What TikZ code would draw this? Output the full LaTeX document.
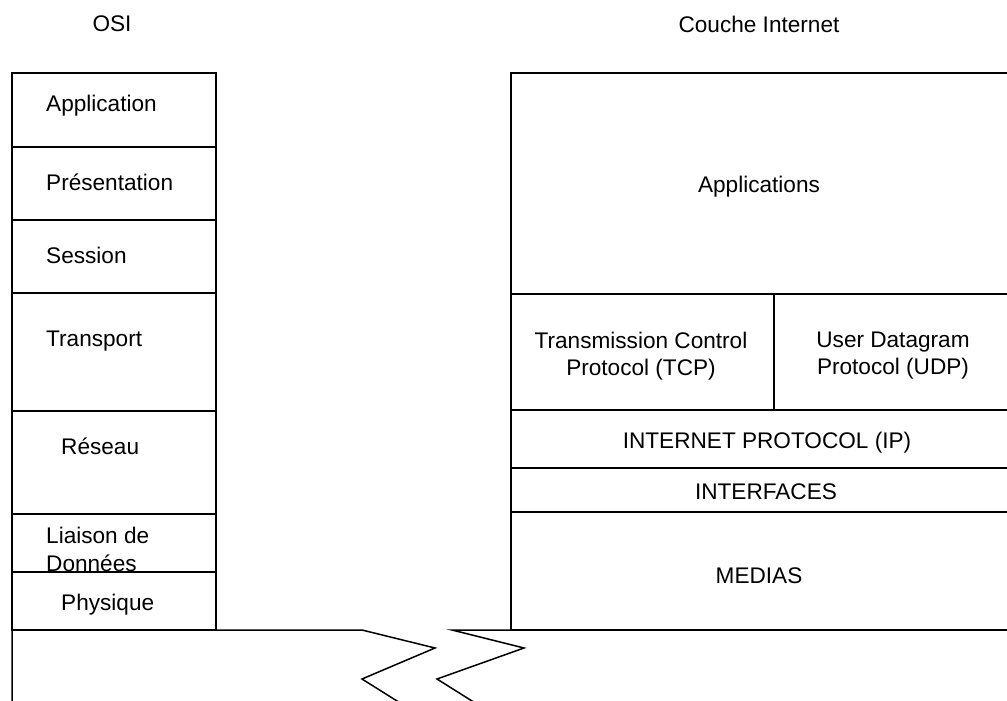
\documentclass[tikz,border=0pt]{standalone}
\usepackage{fontspec}
\setmainfont{Liberation Sans}
\begin{document}
\begin{tikzpicture}[x=1pt,y=-1pt,
  layer/.style={draw, line width=1.5pt, anchor=north west, inner sep=0pt, outer sep=0pt},
  lbl/.style={font=\fontsize{22.6}{27}\selectfont, inner sep=0pt, align=center},
  lblw/.style={lbl, anchor=west, align=left},
  edge/.style={line width=1.5pt, line join=miter}]
\useasboundingbox (0,0) rectangle (1007,701);
\clip (0,0) rectangle (1007,701);

% OSI stack
\node[layer, minimum width=204pt, minimum height=74pt]  (osiapp) at (12,73)  {};
\node[layer, minimum width=204pt, minimum height=73pt]  (osipres) at (12,147) {};
\node[layer, minimum width=204pt, minimum height=73pt]  (osises) at (12,220) {};
\node[layer, minimum width=204pt, minimum height=118pt] (ositra) at (12,293) {};
\node[layer, minimum width=204pt, minimum height=103pt] (osires) at (12,411) {};
\node[layer, minimum width=204pt, minimum height=58pt]  (osilia) at (12,514) {};
\node[layer, minimum width=204pt, minimum height=58pt]  (osiphy) at (12,572) {};

% Internet stack (runs past the right edge)
\node[layer, minimum width=501pt, minimum height=221pt] (inapp) at (511,73)  {};
\node[layer, minimum width=263pt, minimum height=116pt] (intcp) at (511,294) {};
\node[layer, minimum width=238pt, minimum height=116pt] (inudp) at (774,294) {};
\node[layer, minimum width=501pt, minimum height=58pt]  (inip)  at (511,410) {};
\node[layer, minimum width=501pt, minimum height=44pt]  (inif)  at (511,468) {};
\node[layer, minimum width=501pt, minimum height=118pt] (inmed) at (511,512) {};

% Titles
\node[lbl] (tosi) at (112,24) {OSI};
\node[lbl] (tin) at (759,24) {Couche Internet};

% OSI labels
\node[lblw] (lapp)  at (46,106) {Application};
\node[lblw] (lpres) at (46,182) {Présentation};
\node[lblw] (lses)  at (46,255) {Session};
\node[lblw] (ltra)  at (46,341) {Transport};
\node[lblw] (lres)  at (61,446) {Réseau};
\node[lblw, font=\fontsize{22.6}{28}\selectfont] (llia) at (46,549) {Liaison de\\Données};
\node[lblw] (lphy)  at (61,605) {Physique};

% Internet labels
\node[lbl] (iapp) at (759,187) {Applications};
\node[lbl] (itcp) at (641,356) {Transmission Control\\Protocol (TCP)};
\node[lbl] (iudp) at (893,356) {User Datagram\\Protocol (UDP)};
\node[lbl] (iip)  at (767,443) {INTERNET PROTOCOL (IP)};
\node[lbl] (iif)  at (766,492) {INTERFACES};
\node[lbl] (imed) at (759,576) {MEDIAS};

% Broken base line
\coordinate (b1) at (12,706);
\coordinate (b2) at (405,706);
\coordinate (b3) at (452,630);
\coordinate (b4) at (480,706);
\draw[edge] (b1) -- (12,630) -- (362,630) -- (435,648) -- (362,679) -- (b2);
\draw[edge] (1012,630) -- (b3) -- (524,648) -- (437,679) -- (b4);
\draw[edge] (inmed.south west) -- ++(306,0);
\end{tikzpicture}
\end{document}
